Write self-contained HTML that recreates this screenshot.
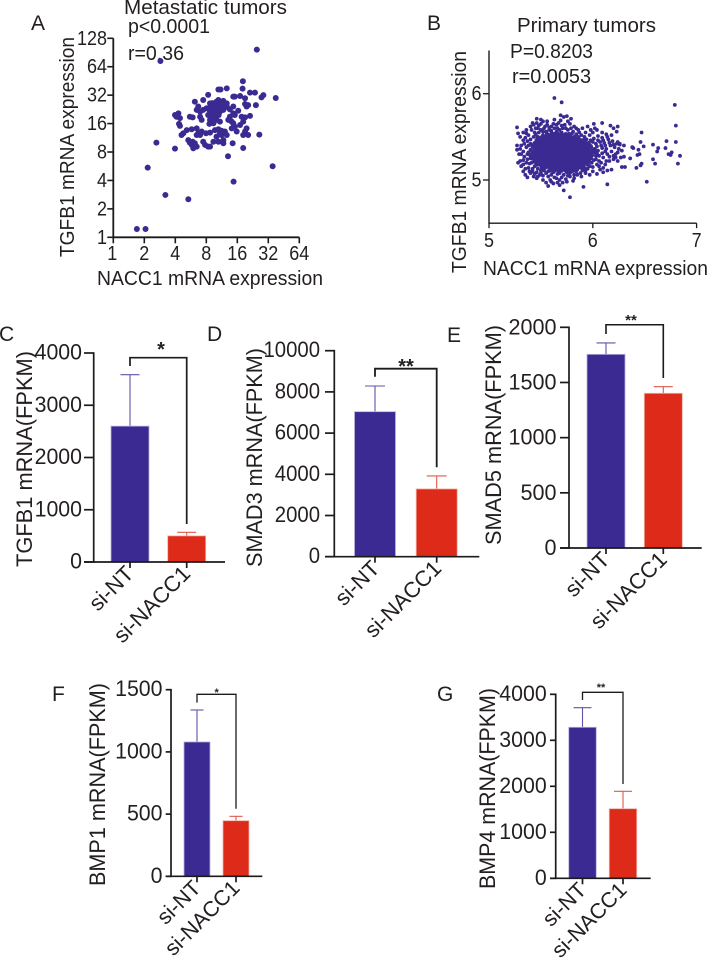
<!DOCTYPE html>
<html lang="en">
<head>
<meta charset="utf-8">
<title>NACC1 and TGF-beta pathway expression</title>
<style>
html,body{margin:0;padding:0;background:#fff;width:708px;height:958px;overflow:hidden}
svg{display:block;font-family:"Liberation Sans",sans-serif;fill:#231f20;filter:blur(0.3px)}
</style>
</head>
<body>
<svg id="figure" width="708" height="958" viewBox="0 0 708 958" xmlns="http://www.w3.org/2000/svg">
  <rect width="708" height="958" fill="#fff"/>
  <g font-size="21">
    <text x="31" y="30">A</text>
    <text x="427" y="30">B</text>
    <text x="-1" y="341">C</text>
    <text x="207" y="341">D</text>
    <text x="447" y="342">E</text>
    <text x="52" y="701">F</text>
    <text x="437" y="701">G</text>
  </g>
  <g font-size="20">
    <text x="124" y="14" textLength="163" lengthAdjust="spacingAndGlyphs">Metastatic tumors</text>
    <text x="128" y="33" textLength="82" lengthAdjust="spacingAndGlyphs">p&lt;0.0001</text>
    <text x="128" y="60" textLength="56" lengthAdjust="spacingAndGlyphs">r=0.36</text>
    <text transform="translate(74 257) rotate(-90)" textLength="220" lengthAdjust="spacingAndGlyphs">TGFB1 mRNA expression</text>
    <text x="97" y="285" textLength="226" lengthAdjust="spacingAndGlyphs">NACC1 mRNA expression</text>
  </g>
  <g font-size="20">
    <text x="517" y="32" textLength="139" lengthAdjust="spacingAndGlyphs">Primary tumors</text>
    <text x="510" y="58" textLength="83" lengthAdjust="spacingAndGlyphs">P=0.8203</text>
    <text x="512" y="83" textLength="79" lengthAdjust="spacingAndGlyphs">r=0.0053</text>
    <text transform="translate(466 273) rotate(-90)" textLength="222" lengthAdjust="spacingAndGlyphs">TGFB1 mRNA expression</text>
    <text x="483" y="275" textLength="225" lengthAdjust="spacingAndGlyphs">NACC1 mRNA expression</text>
  </g>
  <g font-size="22.5">
    <text transform="translate(32 567) rotate(-90)" textLength="216" lengthAdjust="spacingAndGlyphs">TGFB1 mRNA(FPKM)</text>
    <text transform="translate(262 567) rotate(-90)" textLength="219" lengthAdjust="spacingAndGlyphs">SMAD3 mRNA(FPKM)</text>
    <text transform="translate(501 545) rotate(-90)" textLength="220" lengthAdjust="spacingAndGlyphs">SMAD5 mRNA(FPKM)</text>
    <text transform="translate(105 886) rotate(-90)" textLength="203" lengthAdjust="spacingAndGlyphs">BMP1 mRNA(FPKM)</text>
    <text transform="translate(495 889) rotate(-90)" textLength="201" lengthAdjust="spacingAndGlyphs">BMP4 mRNA(FPKM)</text>
  </g>
</svg>
<script>
/* ---------- chart data ---------- */
const metastaticAxisTicks = [1, 2, 4, 8, 16, 32, 64];
const metastaticYTicks = [1, 2, 4, 8, 16, 32, 64, 128];
/* paired samples, log2(expression): [NACC1, TGFB1] */
const metastaticSamples = [
[4.63,6.60],[1.52,6.20],[5.24,4.90],[5.14,2.50],[3.88,1.96],[3.70,2.85],[1.11,2.45],[1.39,3.33],[1.99,3.12],[1.68,1.49],[2.42,1.34],[0.76,0.29],[1.04,0.29],[4.18,5.49],[4.17,5.23],[3.66,5.24],[3.39,5.20],[3.46,5.20],[4.41,5.09],[4.57,5.09],[4.84,5.00],[4.78,4.92],
[1.99,4.30],[2.10,4.36],[2.04,4.24],[2.15,4.19],[2.12,3.99],[2.15,3.92],[2.20,3.60],[2.26,3.66],[2.37,3.77],[2.53,3.80],[2.69,3.83],[2.47,4.24],[2.56,4.22],[2.42,3.42],[2.47,3.33],[2.53,3.25],[2.58,3.13],[2.63,3.31],[2.69,3.19],[2.56,3.36],[2.74,3.66],[2.80,3.60],[2.69,3.60],[2.85,3.72],[2.90,3.36],[2.96,3.25],[3.06,3.19],[3.12,3.19],[2.99,3.66],[3.12,3.68],[3.23,3.36],[3.28,3.77],[3.39,3.80],[3.44,3.66],[3.33,3.54],[3.49,3.60],[3.39,3.36],[3.55,3.42],[3.60,3.72],[3.66,3.60],[3.49,3.75],[3.85,3.31],[3.55,3.31],
[2.63,4.77],[2.74,4.60],[2.80,4.42],[2.69,4.48],[2.80,4.24],[2.85,4.13],[2.90,4.48],[2.90,4.83],[3.06,5.01],[3.12,4.71],[3.01,4.54],[3.17,4.48],[3.06,4.30],[3.12,4.13],[3.10,3.99],[3.23,4.01],[3.33,4.13],[3.44,4.07],[3.17,4.24],
[3.23,4.65],[3.28,4.71],[3.33,4.77],[3.39,4.83],[3.44,4.74],[3.49,4.69],[3.55,4.65],[3.60,4.62],[3.66,4.60],[3.44,4.60],[3.33,4.60],[3.23,4.54],[3.17,4.42],[3.28,4.42],[3.39,4.48],[3.49,4.50],[3.33,4.36],[3.23,4.30],[3.44,4.42],[3.55,4.48],[3.39,4.65],[3.28,4.54],[3.12,4.36],[3.66,4.71],
[3.15,4.60],[3.20,4.72],[3.30,4.50],[3.36,4.55],[3.42,4.52],[3.48,4.56],[3.52,4.60],[3.58,4.55],[3.62,4.68],[3.35,4.70],[3.40,4.75],[3.45,4.66],[3.50,4.76],[3.25,4.60],[3.30,4.65],[3.22,4.42],[3.28,4.36],[3.36,4.40],[3.18,4.55],[3.10,4.48],[3.40,4.30],[3.20,4.18],[3.27,4.22],[3.55,4.80],[3.58,4.72],
[3.76,4.24],[3.82,4.07],[3.87,4.01],[3.92,3.89],[3.82,3.83],[3.98,3.72],[3.76,4.13],[3.71,4.13],[3.87,4.36],[4.03,4.45],[3.92,4.30],[4.14,4.24],[4.25,4.22],[4.41,4.27],[4.19,4.07],[4.09,3.95],[4.30,3.83],[4.25,3.72],[4.35,3.60],[4.19,3.60],[4.71,3.61],[4.19,3.14],[3.87,4.95],[4.09,4.97],[3.92,4.95],[4.25,4.89],[4.25,4.69],[4.35,4.65],[4.60,4.65],[4.30,4.60],[3.76,4.50],[3.87,4.60]
];

const primaryXTicks = [5, 6, 7];
const primaryYTicks = [5, 6];
/* dense core of panel B: TGFB1 levels and the NACC1 values seen at each level */
const primaryCoreTgfb1 = [5.11, 5.145, 5.18, 5.215, 5.25, 5.285, 5.32, 5.355, 5.39, 5.425, 5.46, 5.495, 5.53];
const primaryCoreNacc1 = [
[5.60,5.63,5.67,5.70,5.74,5.77,5.81],
[5.51,5.54,5.58,5.61,5.65,5.68,5.72,5.75,5.79,5.82,5.86,5.89],
[5.46,5.49,5.53,5.56,5.60,5.63,5.67,5.70,5.74,5.77,5.81,5.84,5.88,5.91,5.95],
[5.44,5.47,5.51,5.54,5.58,5.61,5.65,5.68,5.72,5.75,5.79,5.82,5.86,5.89,5.93,5.96],
[5.42,5.46,5.49,5.53,5.56,5.60,5.63,5.67,5.70,5.74,5.77,5.81,5.84,5.88,5.91,5.95,5.98],
[5.40,5.44,5.47,5.51,5.54,5.58,5.61,5.65,5.68,5.72,5.75,5.79,5.82,5.86,5.89,5.93,5.96,5.99],
[5.42,5.46,5.49,5.53,5.56,5.60,5.63,5.67,5.70,5.74,5.77,5.81,5.84,5.88,5.91,5.95,5.98,6.02],
[5.44,5.47,5.51,5.54,5.58,5.61,5.65,5.68,5.72,5.75,5.79,5.82,5.86,5.89,5.93,5.96,6.00],
[5.42,5.46,5.49,5.53,5.56,5.60,5.63,5.67,5.70,5.74,5.77,5.81,5.84,5.88,5.91,5.95,5.98],
[5.44,5.47,5.51,5.54,5.58,5.61,5.65,5.68,5.72,5.75,5.79,5.82,5.86,5.89,5.93,5.96],
[5.46,5.49,5.53,5.56,5.60,5.63,5.67,5.70,5.74,5.77,5.81,5.84,5.88,5.91],
[5.47,5.51,5.54,5.58,5.61,5.65,5.68,5.72,5.75,5.79,5.82,5.86],
[5.56,5.60,5.63,5.67,5.70,5.74,5.77]
];
/* individually readable samples of panel B: [NACC1, TGFB1] */
const primarySamples = [
[5.63,5.95],[5.70,5.90],[6.79,5.87],[6.80,5.63],[6.80,5.44],[6.71,5.45],[6.84,5.28],[6.82,5.19],[6.76,5.32],[6.73,5.30],[6.75,5.29],[6.70,5.37],[6.63,5.37],[6.62,5.33],[6.58,5.41],[6.58,5.24],[6.60,5.19],[6.52,4.98],[6.47,5.55],[6.46,5.44],[6.49,5.39],[6.39,5.37],[6.38,5.38],[6.44,5.35],[6.43,5.29],[6.45,5.30],[6.47,5.19],[6.46,5.17],[6.42,5.14],[6.36,5.25],[6.30,5.27],[6.31,5.15],[6.28,5.15],[6.30,5.40],[6.26,5.42],[6.23,5.42],[6.24,5.62],[6.20,5.60],[6.17,5.63],[6.23,5.56],[6.09,5.66],[6.01,5.65],[6.14,4.95],[5.91,4.92],[5.78,4.80],[5.72,4.88],[5.68,4.94],[5.57,4.93],[5.27,5.61],[5.27,5.40],[5.28,5.54],[5.46,5.71],[5.79,5.71],[5.69,5.75],[5.75,5.74],
[5.27,5.35],[5.29,5.30],[5.30,5.22],[5.28,5.20],[5.31,5.16],[5.33,5.10],[5.35,5.06],[5.37,5.03],[5.40,5.08],[5.38,5.14],[5.36,5.20],[5.34,5.27],[5.33,5.33],[5.31,5.40],[5.34,5.42],[5.36,5.38],[5.38,5.32],[5.40,5.25],[5.39,5.19],[5.42,5.13],[5.44,5.07],[5.46,5.02],[5.49,5.06],[5.52,5.00],[5.55,4.97],[5.59,5.00],[5.62,4.96],[5.65,5.02],[5.68,5.00],[5.71,4.97],[5.74,5.01],[5.78,5.04],[5.82,5.02],[5.85,5.06],[5.89,5.04],[5.93,5.08],[5.97,5.06],[6.00,5.10],[6.04,5.07],[6.07,5.12],[6.10,5.09],[6.14,5.11],[6.18,5.12],[5.46,5.09],[5.50,5.11],[5.55,5.08],[5.60,5.06],[5.66,5.07],[5.72,5.06],[5.78,5.08],[5.84,5.10],[5.90,5.11],[5.95,5.13],[6.00,5.15],[6.04,5.18],[6.08,5.20],[6.12,5.18],[6.16,5.22],[6.20,5.24],[6.24,5.22],[6.27,5.26],[6.03,5.24],[6.06,5.28],[6.10,5.26],[6.14,5.30],[6.18,5.33],[6.22,5.30],[6.05,5.34],[6.09,5.37],[6.13,5.36],[6.17,5.40],[6.21,5.38],[6.25,5.36],[6.28,5.34],[6.03,5.42],[6.07,5.44],[6.11,5.43],[6.15,5.47],[6.19,5.45],[6.01,5.48],[6.05,5.51],[6.09,5.49],[6.13,5.53],[5.97,5.52],[6.00,5.55],[6.04,5.58],[5.93,5.55],[5.90,5.60],[5.95,5.62],[5.86,5.58],[5.82,5.62],[5.78,5.65],[5.74,5.60],[5.70,5.63],[5.66,5.60],[5.62,5.65],[5.58,5.58],[5.54,5.62],[5.50,5.65],[5.47,5.60],[5.44,5.55],[5.41,5.58],[5.38,5.52],[5.40,5.47],[5.37,5.45],[5.35,5.49],[5.33,5.55],[5.30,5.50],[5.43,5.50],[5.46,5.66],[5.52,5.68],[5.60,5.62],[5.69,5.69],[5.72,5.73],[5.76,5.68],[5.52,5.56],
[5.40,5.62],[5.43,5.64],[5.45,5.60],[5.48,5.63],[5.50,5.58],[5.53,5.60],[5.56,5.64],[5.58,5.61],[5.60,5.57],[5.63,5.60],[5.65,5.64],[5.68,5.58],[5.71,5.60],[5.73,5.64],[5.76,5.58],[5.79,5.60],[5.81,5.56],[5.84,5.60],[5.87,5.55],[5.45,5.53],[5.48,5.55],[5.52,5.52],[5.55,5.56],[5.61,5.54],[5.65,5.56],[5.70,5.55],[5.80,5.54],[5.84,5.53],[5.89,5.52],[5.92,5.50],[5.94,5.47],[5.98,5.46],[5.40,5.42],[5.38,5.40],[5.40,5.35],[5.37,5.30],[5.40,5.29],[5.37,5.24],[5.41,5.20],[5.44,5.16],[5.47,5.13],[5.42,5.10],[5.50,5.08],[5.53,5.11],[5.57,5.10],[5.62,5.09],[5.68,5.08],[5.75,5.09],[5.80,5.10],[5.85,5.12],[5.92,5.14],[5.97,5.16],[5.99,5.20],[6.01,5.23],[6.03,5.28],[6.04,5.31],[6.02,5.36],[6.04,5.39],[6.00,5.44],
[6.06,5.16],[6.10,5.14],[6.13,5.22],[6.06,5.22],[6.09,5.31],[6.12,5.33],[6.16,5.27],[6.20,5.28],[6.08,5.40],[6.12,5.40],[6.16,5.43],[6.20,5.41],[6.24,5.44],[6.05,5.46],[6.10,5.46],[6.14,5.50],[6.09,5.55],[6.02,5.60],[5.98,5.58],[6.18,5.52],[6.24,5.32],[6.26,5.41],[6.22,5.26],
[5.47,5.04],[5.52,5.05],[5.57,5.04],[5.63,5.03],[5.70,5.03],[5.76,5.05],[5.82,5.06],[5.88,5.08],[5.93,5.11],[5.60,4.98],[5.66,4.97],[5.75,4.98],[5.81,4.99],[5.43,5.04],[5.39,5.10],[5.35,5.13],[5.33,5.18],[5.33,5.23],[5.31,5.30],[5.30,5.36],[5.33,5.46],[5.36,5.54],[5.36,5.58],[5.42,5.66],[5.50,5.70],[5.56,5.68],[5.63,5.70],[5.67,5.66]
];

const barCategories = ["si-NT", "si-NACC1"];

const tgfb1Means = [2600, 500];
const tgfb1Errors = [985, 68];
const tgfb1Ticks = [0, 1000, 2000, 3000, 4000];
const tgfb1Stars = "*";

const smad3Means = [7040, 3290];
const smad3Errors = [1246, 630];
const smad3Ticks = [0, 2000, 4000, 6000, 8000, 10000];
const smad3Stars = "**";

const smad5Means = [1755, 1402];
const smad5Errors = [103, 60];
const smad5Ticks = [0, 500, 1000, 1500, 2000];
const smad5Stars = "**";

const bmp1Means = [1080, 447];
const bmp1Errors = [257, 35];
const bmp1Ticks = [0, 500, 1000, 1500];
const bmp1Stars = "*";

const bmp4Means = [3283, 1513];
const bmp4Errors = [427, 378];
const bmp4Ticks = [0, 1000, 2000, 3000, 4000];
const bmp4Stars = "**";

/* ---------- helpers ---------- */
const svg = document.getElementById('figure');
const NS = 'http://www.w3.org/2000/svg';
const INK = '#1c1a1b';
const DOT = '#3b2a92';
function mk(tag, attrs, parent) {
  const el = document.createElementNS(NS, tag);
  for (const k in attrs) el.setAttribute(k, attrs[k]);
  parent.appendChild(el);
  return el;
}
function line(x1, y1, x2, y2, stroke, width, parent) {
  return mk('line', {x1, y1, x2, y2, stroke, 'stroke-width': width}, parent);
}
function digitLength(value, perDigit) {
  return String(value).length * perDigit;
}

/* ---------- panel A ---------- */
(function () {
  const g = mk('g', {}, svg);
  
  
  const x = v => 113.3 + v * 31;
  const y = v => 237.3 - v * 28.43;
  metastaticSamples.forEach(p => {
    const dot = mk('circle', {cx: x(p[0]), cy: y(p[1]), r: 3, fill: DOT}, g);
    
    
  });
  const yAxis = line(x(0), y(7), x(0), y(0) + 1, INK, 1.8, g);
  
  
  const xAxis = line(x(0) - 1, y(0), x(Math.log2(64)), y(0), INK, 1.8, g);
  
  
  metastaticYTicks.forEach(t => {
    const py = y(Math.log2(t));
    const tick = line(x(0) - 6, py, x(0), py, INK, 1.6, g);
    
    
    const label = mk('text', {x: 107, y: py + 6.5, 'font-size': 20, 'text-anchor': 'end', textLength: digitLength(t, 10), lengthAdjust: 'spacingAndGlyphs'}, g);
    label.textContent = t;
    
    
  });
  metastaticAxisTicks.forEach(t => {
    const px = x(Math.log2(t));
    const tick = line(px, y(0), px, y(0) + 6, INK, 1.6, g);
    
    
    const label = mk('text', {x: px - (t === 1 ? 1 : 0), y: 260, 'font-size': 20, 'text-anchor': 'middle', textLength: digitLength(t, 10), lengthAdjust: 'spacingAndGlyphs'}, g);
    label.textContent = t;
    
    
  });
})();

/* ---------- panel B ---------- */
(function () {
  const g = mk('g', {}, svg);
  
  
  const x = v => 489 + (v - 5) * 103.8;
  const y = v => 180 - (v - 5) * 86.3;
  function dot(nx, ty, r) {
    const c = mk('circle', {cx: x(nx), cy: y(ty), r, fill: DOT}, g);
    
    
  }
  primaryCoreTgfb1.forEach((t, i) => {
    primaryCoreNacc1[i].forEach(n => dot(n, t, 2.3));
  });
  primarySamples.forEach(p => dot(p[0], p[1], 1.9));
  const yAxis = line(x(5), y(6.5), x(5), y(4.5) + 0.7, INK, 1.4, g);
  
  
  const xAxis = line(x(5), y(4.5), x(7), y(4.5), INK, 1.4, g);
  
  
  primaryYTicks.forEach(t => {
    const tick = line(x(5) - 6, y(t), x(5), y(t), INK, 1.3, g);
    
    
    const label = mk('text', {x: 481.5, y: y(t) + 6.5, 'font-size': 20, 'text-anchor': 'end', textLength: digitLength(t, 10), lengthAdjust: 'spacingAndGlyphs'}, g);
    label.textContent = t;
    
    
  });
  primaryXTicks.forEach(t => {
    const tick = line(x(t), y(4.5), x(t), y(4.5) + 5, INK, 1.3, g);
    
    
    const label = mk('text', {x: x(t), y: 247, 'font-size': 20, 'text-anchor': 'middle', textLength: digitLength(t, 10), lengthAdjust: 'spacingAndGlyphs'}, g);
    label.textContent = t;
    
    
  });
})();

/* ---------- bar panels ---------- */
function drawBarPanel(means, errors, ticks, stars, o) {
  const g = mk('g', {}, svg);
  
  
  const top = ticks[ticks.length - 1];
  const y = v => o.y0 - v / top * (o.y0 - o.yTop);
  const fills = ['#3a2a92', '#de2a18'];
  const edges = ['#b8b2dc', '#f3b3a8'];
  const errs = ['#5f54ab', '#e2574a'];
  means.forEach((m, i) => {
    const cx = o.centers[i];
    const stem = line(cx, y(m), cx, y(m + errors[i]), errs[i], 1.1, g);
    
    
    const cap = line(cx - o.cap, y(m + errors[i]), cx + o.cap, y(m + errors[i]), errs[i], 1.1, g);
    
    
    const bar = mk('rect', {x: cx - o.barW / 2, y: y(m), width: o.barW, height: o.y0 - y(m), fill: fills[i], stroke: edges[i], 'stroke-width': 0.8}, g);
    
    
    const tick = line(cx, o.y0, cx, o.y0 + 6, INK, 1.7, g);
    
    
    const label = mk('text', {'font-size': o.catFont, 'text-anchor': 'end', transform: 'translate(' + (cx + o.catDx) + ' ' + (o.y0 + o.catDy) + ') rotate(-45)'}, g);
    label.textContent = barCategories[i];
    
    
  });
  const yAxis = line(o.axisX, o.yTop - 0.8, o.axisX, o.y0 + 0.8, INK, 1.7, g);
  
  
  const xAxis = line(o.xStart, o.y0, o.xEnd, o.y0, INK, 1.7, g);
  
  
  ticks.forEach(t => {
    const tick = line(o.xStart, y(t), o.axisX, y(t), INK, 1.7, g);
    
    
    const label = mk('text', {x: o.labelX, y: y(t) + o.labelDy, 'font-size': 22.5, 'text-anchor': 'end', textLength: digitLength(t, o.digitW), lengthAdjust: 'spacingAndGlyphs'}, g);
    label.textContent = t;
    
    
  });
  const bracket = mk('path', {
    d: 'M' + o.centers[0] + ' ' + y(o.bracketLeft) + 'V' + y(o.bracketTop) + 'H' + o.centers[1] + 'V' + y(o.bracketRight),
    fill: 'none', stroke: INK, 'stroke-width': o.bracketW
  }, g);
  
  
  const star = mk('text', {x: o.starX, y: o.starY, 'font-size': o.starFont, 'font-weight': 'bold', 'text-anchor': 'middle'}, g);
  star.textContent = stars;
  
  
}

drawBarPanel(tgfb1Means, tgfb1Errors, tgfb1Ticks, tgfb1Stars, {
  y0: 562, yTop: 353, axisX: 93.7, xStart: 84, xEnd: 225, centers: [130, 186.7], barW: 38, cap: 9.5,
  labelX: 82, labelDy: 6.5, digitW: 11.85, catFont: 22, catDx: 5, catDy: 13, bracketTop: 3910, bracketLeft: 3751, bracketRight: 727, bracketW: 1.7,
  starX: 161, starY: 356, starFont: 20
});
drawBarPanel(smad3Means, smad3Errors, smad3Ticks, smad3Stars, {
  y0: 556.7, yTop: 350.7, axisX: 334.3, xStart: 325, xEnd: 479.3, centers: [375, 436.7], barW: 41, cap: 10,
  labelX: 320, labelDy: 6.5, digitW: 11.3, catFont: 22, catDx: 6, catDy: 13, bracketTop: 9126, bracketLeft: 8738, bracketRight: 4340, bracketW: 1.8,
  starX: 406, starY: 373, starFont: 20
});
drawBarPanel(smad5Means, smad5Errors, smad5Ticks, smad5Stars, {
  y0: 548, yTop: 327.3, axisX: 569, xStart: 560, xEnd: 701.7, centers: [606, 663.3], barW: 38, cap: 9.5,
  labelX: 556.5, labelDy: 7, digitW: 12, catFont: 22, catDx: 5, catDy: 13, bracketTop: 2023, bracketLeft: 1939, bracketRight: 1541, bracketW: 1.6,
  starX: 631, starY: 325, starFont: 15
});
drawBarPanel(bmp1Means, bmp1Errors, bmp1Ticks, bmp1Stars, {
  y0: 876.3, yTop: 689.7, axisX: 171, xStart: 165.7, xEnd: 262.3, centers: [197, 236], barW: 26, cap: 6.5,
  labelX: 162.5, labelDy: 6.5, digitW: 11.85, catFont: 21.5, catDx: 5, catDy: 13, bracketTop: 1463, bracketLeft: 1396, bracketRight: 543, bracketW: 1.3,
  starX: 216.7, starY: 696, starFont: 11
});
drawBarPanel(bmp4Means, bmp4Errors, bmp4Ticks, bmp4Stars, {
  y0: 878.3, yTop: 694.3, axisX: 555.7, xStart: 550, xEnd: 650.7, centers: [582.5, 623], barW: 27.5, cap: 9,
  labelX: 546.7, labelDy: 6.5, digitW: 11.85, catFont: 21.5, catDx: 5, catDy: 13, bracketTop: 4043, bracketLeft: 3876, bracketRight: 2050, bracketW: 1.3,
  starX: 601, starY: 691, starFont: 11
});
</script>
</body>
</html>
